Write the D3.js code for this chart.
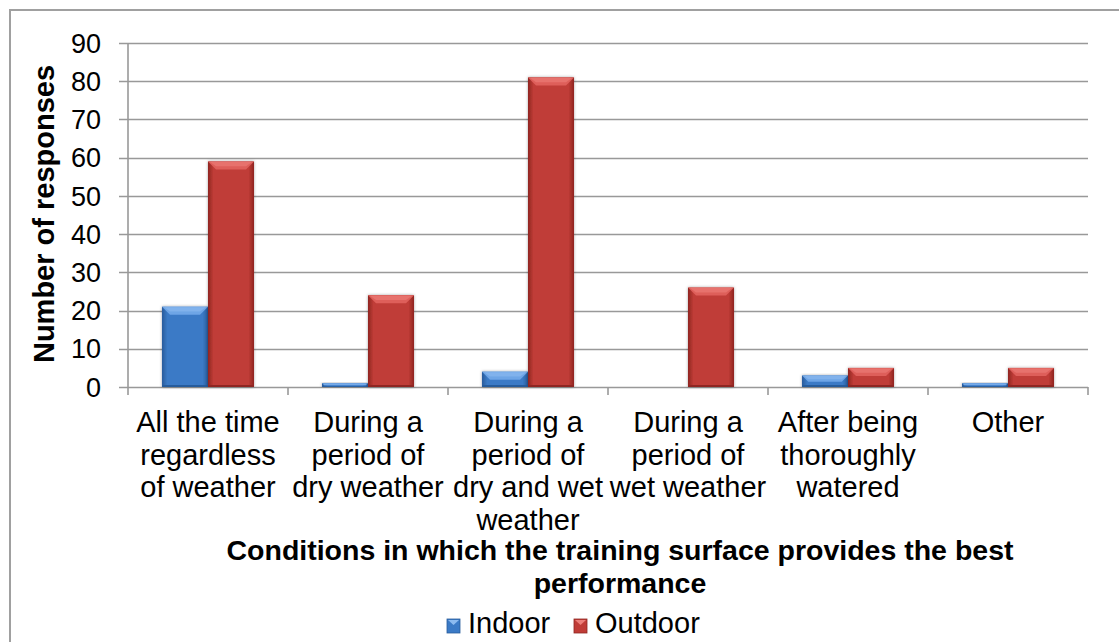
<!DOCTYPE html>
<html>
<head>
<meta charset="utf-8">
<script src="https://cdn.jsdelivr.net/npm/d3@7"></script>
<style>
  html, body { margin: 0; padding: 0; background: #fff; }
  svg { display: block; font-family: "Liberation Sans", Arial, sans-serif; }
</style>
</head>
<body>
<svg id="chart" width="1119" height="642"></svg>
<script>
// Survey: conditions in which the training surface performs best
const categories = [
  "All the time regardless of weather",
  "During a period of dry weather",
  "During a period of dry and wet weather",
  "During a period of wet weather",
  "After being thoroughly watered",
  "Other"
];
const categoryLines = [
  ["All the time", "regardless", "of weather"],
  ["During a", "period of", "dry weather"],
  ["During a", "period of", "dry and wet", "weather"],
  ["During a", "period of", "wet weather"],
  ["After being", "thoroughly", "watered"],
  ["Other"]
];
const seriesNames = ["Indoor", "Outdoor"];
const indoorValues = [21, 1, 4, 0, 3, 1];
const outdoorValues = [59, 24, 81, 26, 5, 5];
const yTicks = [0, 10, 20, 30, 40, 50, 60, 70, 80, 90];

const seriesValues = { Indoor: indoorValues, Outdoor: outdoorValues };
const palette = {
  Indoor:  { base: "#3b7ac6", dark: "#285c9c", light: "#6ea5e6", bevel: "#8dbbf0" },
  Outdoor: { base: "#c03c37", dark: "#8f2622", light: "#de5f5a", bevel: "#ec7f7a" }
};

const svg = d3.select("#chart");
const plotLeft = 128, plotRight = 1088, plotTop = 43, plotBottom = 387;

// outer chart border
svg.append("rect")
  .attr("x", 10).attr("y", 10).attr("width", 1130).attr("height", 660)
  .attr("fill", "none").attr("stroke", "#a0a0a0").attr("stroke-width", 2);

const defs = svg.append("defs");
Object.entries(palette).forEach(([name, c]) => {
  const g = defs.append("linearGradient").attr("id", "grad-" + name)
    .attr("x1", "0").attr("x2", "1").attr("y1", "0").attr("y2", "0");
  g.append("stop").attr("offset", "0%").attr("stop-color", c.dark);
  g.append("stop").attr("offset", "12%").attr("stop-color", c.base);
  g.append("stop").attr("offset", "88%").attr("stop-color", c.base);
  g.append("stop").attr("offset", "100%").attr("stop-color", c.dark);
});
const shadow = defs.append("filter").attr("id", "barShadow")
  .attr("x", "-20%").attr("y", "-20%").attr("width", "140%").attr("height", "140%");
shadow.append("feDropShadow").attr("dx", 0).attr("dy", 0).attr("stdDeviation", 1.5)
  .attr("flood-color", "#000").attr("flood-opacity", 0.35);

const y = d3.scaleLinear().domain([0, 90]).range([plotBottom, plotTop]);
const x0 = d3.scaleBand().domain(categories).range([plotLeft, plotRight]).paddingInner(0).paddingOuter(0);
const x1 = d3.scaleBand().domain(seriesNames).range([0, x0.bandwidth()]).paddingInner(0).paddingOuter(0.739);

// gridlines with left tick stubs
svg.append("g").selectAll("line").data(yTicks).join("line")
  .attr("x1", plotLeft - 9).attr("x2", plotRight)
  .attr("y1", d => Math.round(y(d)) + 0.5).attr("y2", d => Math.round(y(d)) + 0.5)
  .attr("stroke", "#999").attr("stroke-width", 1.6);

// value axis line
svg.append("line")
  .attr("x1", plotLeft).attr("x2", plotLeft).attr("y1", plotTop).attr("y2", plotBottom + 8)
  .attr("stroke", "#999").attr("stroke-width", 1.6);

// category boundary ticks
const boundaries = categories.map(c => x0(c)).concat([plotRight]);
svg.append("g").selectAll("line").data(boundaries.slice(1)).join("line")
  .attr("x1", d => d).attr("x2", d => d).attr("y1", plotBottom).attr("y2", plotBottom + 8)
  .attr("stroke", "#999").attr("stroke-width", 1.6);

// y tick labels
svg.append("g").selectAll("text").data(yTicks).join("text")
  .attr("x", 101).attr("y", d => y(d)).attr("dy", "0.36em")
  .attr("text-anchor", "end").attr("font-size", 27).attr("fill", "#000")
  .text(d => d);

// bars with bevelled tops
const barData = [];
categories.forEach((c, i) => seriesNames.forEach(s => barData.push({ c, s, v: seriesValues[s][i] })));
const bars = svg.append("g").selectAll("g").data(barData.filter(d => d.v > 0)).join("g")
  .attr("filter", "url(#barShadow)");
bars.each(function(d) {
  const g = d3.select(this);
  const bx = x0(d.c) + x1(d.s), bw = x1.bandwidth();
  const by = y(d.v), bh = y(0) - y(d.v);
  const c = palette[d.s];
  g.append("rect").attr("x", bx).attr("y", by).attr("width", bw).attr("height", bh)
    .attr("fill", "url(#grad-" + d.s + ")");
  const b = Math.min(8, bh * 0.55);
  g.append("path")
    .attr("d", `M${bx},${by}L${bx + bw},${by}L${bx + bw - b},${by + b}L${bx + b},${by + b}Z`)
    .attr("fill", c.light);
  g.append("path")
    .attr("d", `M${bx + 2},${by + 0.5}L${bx + bw - 2},${by + 0.5}L${bx + bw - b},${by + b * 0.6}L${bx + b},${by + b * 0.6}Z`)
    .attr("fill", c.bevel).attr("opacity", 0.6);
  g.append("rect").attr("x", bx).attr("y", y(0) - Math.min(2, bh * 0.2)).attr("width", bw)
    .attr("height", Math.min(2, bh * 0.2)).attr("fill", c.dark);
});

// category labels
const catLabels = svg.append("g").selectAll("text").data(categories).join("text")
  .attr("text-anchor", "middle").attr("font-size", 29).attr("fill", "#000")
  .attr("x", d => x0(d) + x0.bandwidth() / 2).attr("y", 432);
catLabels.each(function(d, i) {
  d3.select(this).selectAll("tspan").data(categoryLines[i]).join("tspan")
    .attr("x", x0(d) + x0.bandwidth() / 2)
    .attr("dy", (t, j) => j === 0 ? 0 : 32.5)
    .text(t => t);
});

// axis titles
const xTitle = svg.append("text").attr("text-anchor", "middle")
  .attr("font-size", 28.5).attr("font-weight", "bold").attr("fill", "#000");
xTitle.append("tspan").attr("x", 620).attr("y", 560)
  .text("Conditions in which the training surface provides the best");
xTitle.append("tspan").attr("x", 620).attr("y", 593).text("performance");

svg.append("text")
  .attr("transform", `translate(54,214) rotate(-90)`)
  .attr("text-anchor", "middle").attr("font-size", 29).attr("font-weight", "bold")
  .attr("fill", "#000").text("Number of responses");

// legend
const legendItems = [
  { name: "Indoor", x: 447 },
  { name: "Outdoor", x: 574 }
];
const legend = svg.append("g").selectAll("g").data(legendItems).join("g")
  .attr("transform", d => `translate(${d.x},619)`);
legend.append("rect").attr("width", 13).attr("height", 14)
  .attr("fill", d => palette[d.name].base).attr("stroke", d => palette[d.name].dark).attr("stroke-width", 0.8);
legend.append("path").attr("d", "M1,1L12,1L6.5,6Z").attr("fill", d => palette[d.name].bevel);
legend.append("text").attr("x", 21).attr("y", 14)
  .attr("font-size", 29).attr("fill", "#000").text(d => d.name);
</script>
</body>
</html>
